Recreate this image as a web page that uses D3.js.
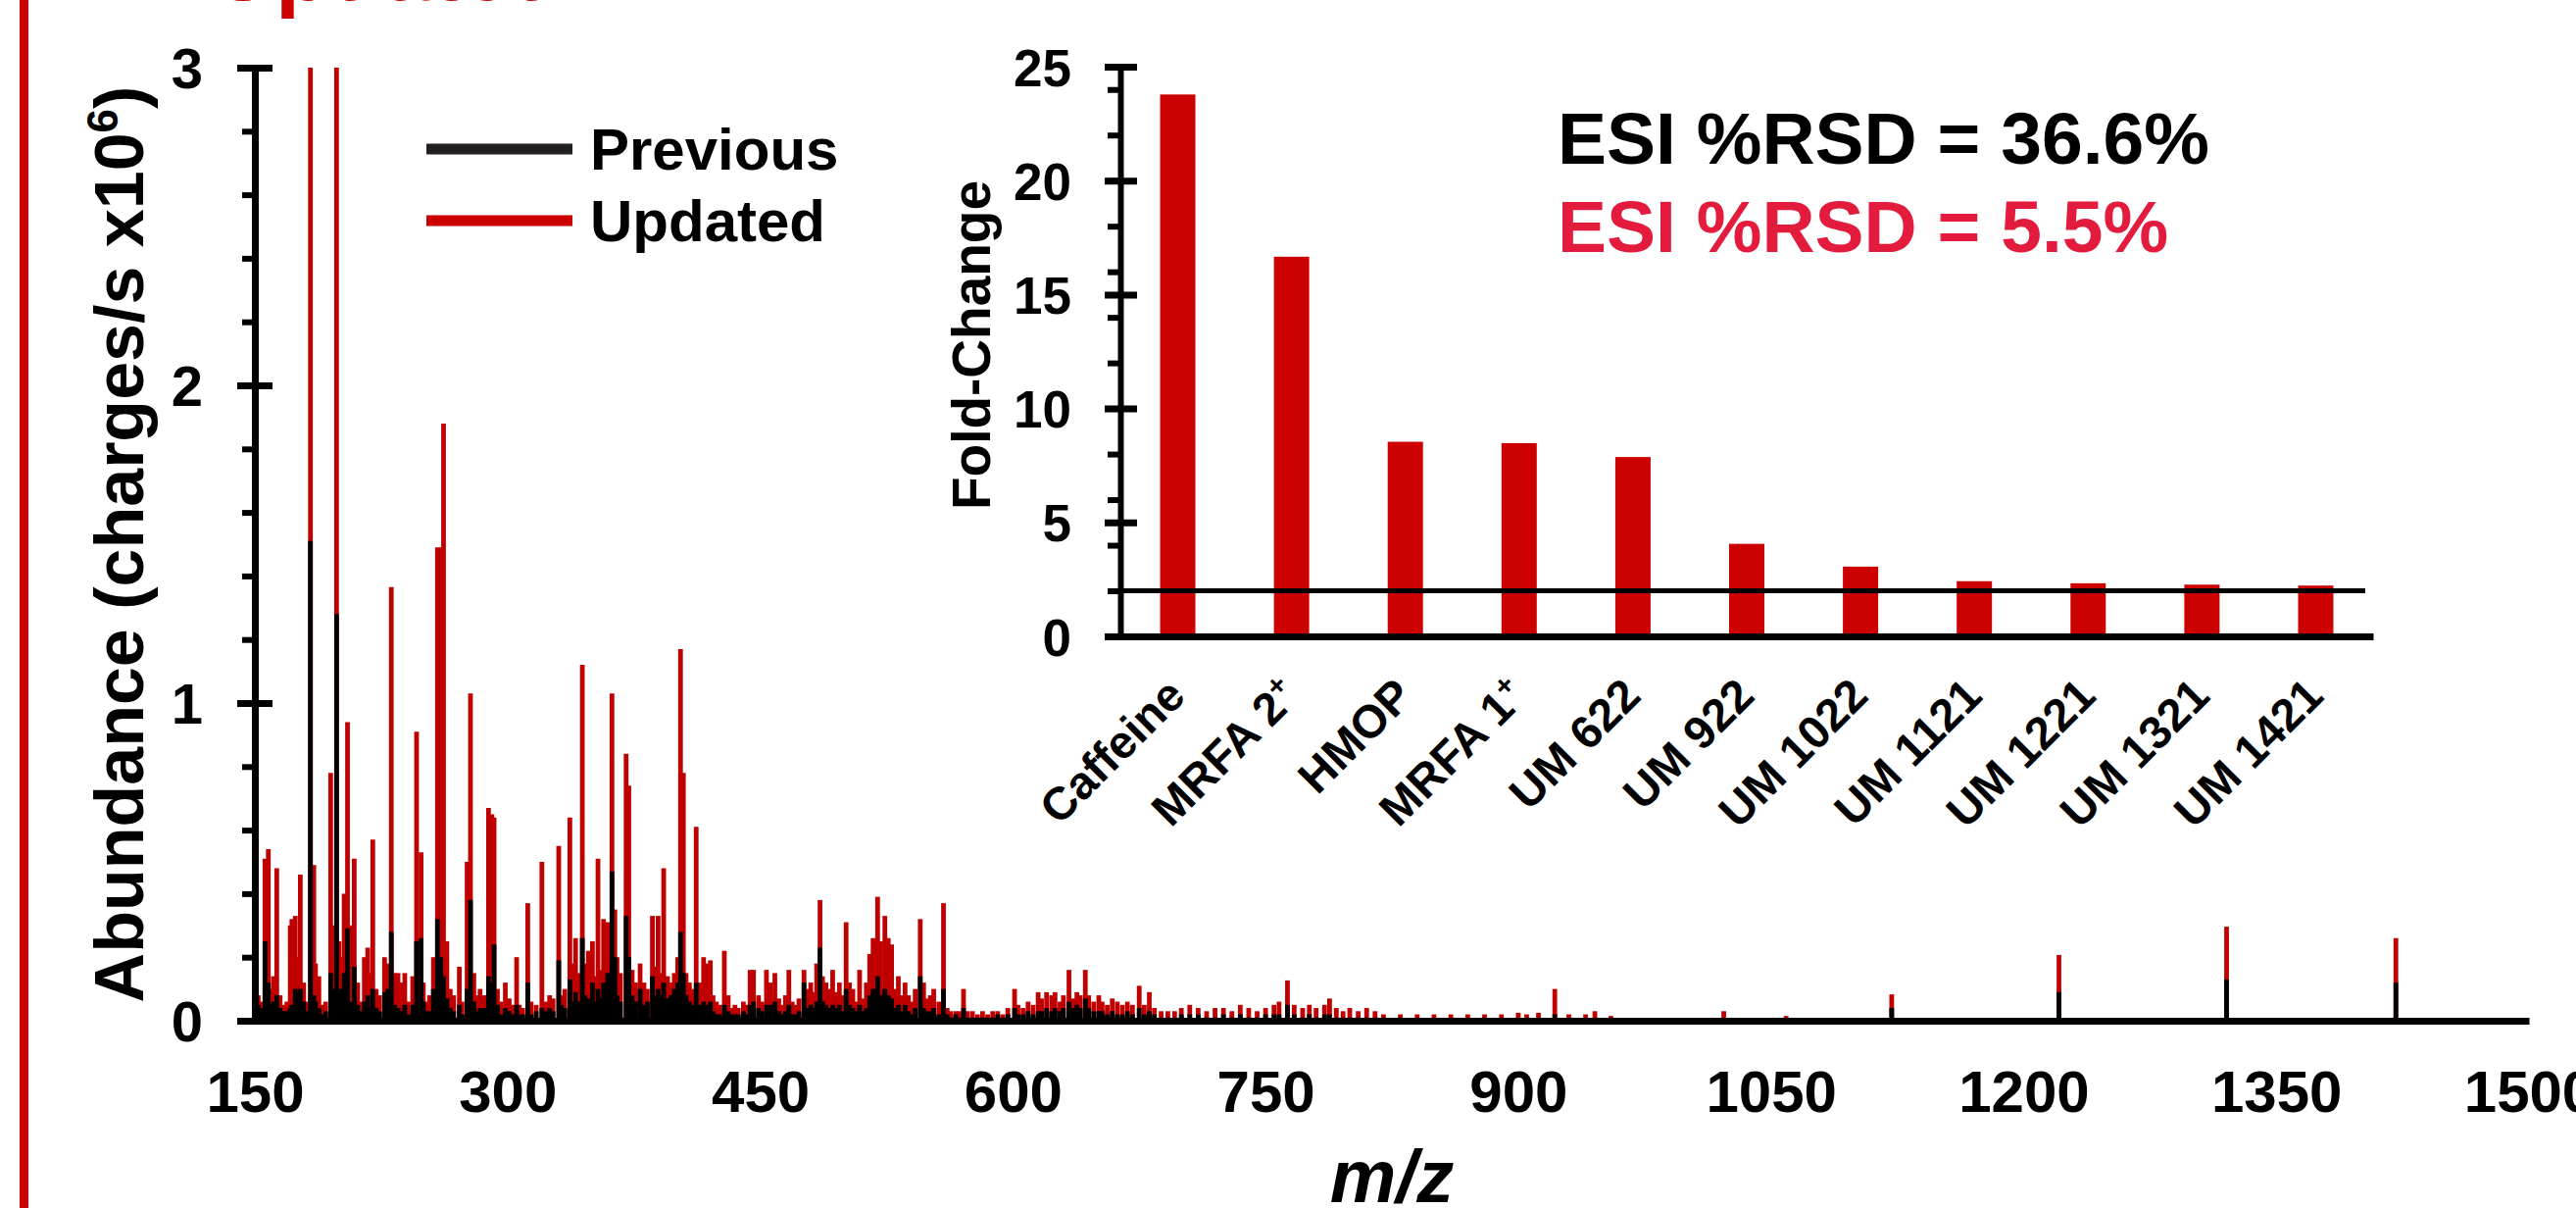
<!DOCTYPE html>
<html>
<head>
<meta charset="utf-8">
<script src="https://cdn.jsdelivr.net/npm/d3@7"></script>
<style>
  body { margin: 0; background: #fff; }
  svg { display: block; }
</style>
</head>
<body>
<div id="chart"></div>
<script>
// mass spectrum (abundance in charges/s x10^6)
const peakMz = [
  150, 152, 154, 156, 158, 160, 161, 163, 165, 167, 169, 171, 172, 174, 175, 177, 179,
  181, 183, 185, 186, 188, 190, 192, 195, 196, 198.5, 200, 201, 203, 205, 207, 209, 211,
  213, 215, 217, 218, 220, 222, 224, 227, 229, 231, 233, 235, 237, 239, 241, 243.7,
  246, 248.7, 250, 252, 253.7, 256, 258.4, 260.4, 262, 264, 266, 268, 271.4, 273,
  276, 278, 280, 282, 283.7, 286, 288.7, 290.7, 292, 294, 296, 298.7, 301, 303, 305.4, 307, 309,
  312, 314, 317, 320.4, 323, 325, 327, 330.4, 332, 334, 337, 339, 340.4, 342,
  344.4, 346, 348, 350.4, 352, 353.7, 355, 357, 359.4, 362, 363.7, 365, 367,
  370.4, 372, 374, 376, 378.7, 381, 383, 386, 387.5, 389.4, 391, 392.7, 395, 397, 399,
  401, 402.7, 404.4, 406, 408, 410, 412, 414, 416.4, 418, 420.4, 422, 424, 426, 428.7,
  431, 433, 435, 437, 440, 442, 444, 446, 449, 451, 453.7, 456, 458.7, 461, 463, 465, 467, 469, 471, 473,
  476, 478, 480, 482, 483.5, 485.5, 487, 489, 491, 493, 495, 497, 499, 501, 503, 505, 507, 509, 511, 513,
  515, 517, 519.7, 521.5, 524, 526, 528, 530, 532, 534, 536, 538, 540, 542, 545, 547, 549, 551, 553, 556,
  558.8, 561, 563, 566, 568, 570.7, 573, 576, 579, 582, 585, 588, 591, 594, 597,
  601, 603, 606, 609, 612, 615, 617, 620, 623, 625, 628, 630, 633.3, 636, 638, 640, 643, 645,
  648, 651, 653, 656, 659, 662, 665, 668, 671, 675, 678, 681, 684, 688, 692, 696, 700,
  705, 710, 715, 720, 725, 730, 735, 740, 745, 750, 755, 758, 763, 767, 772, 776, 780, 785, 788, 792, 796,
  800, 805, 810, 815, 820, 830, 840, 850, 860, 870, 880, 890, 900, 905, 912, 921.7, 930, 940, 945.5, 955,
  1022, 1059, 1121.7, 1221, 1320.5, 1421
];
const updatedAbundance = [
  0.14, 0.08, 0.06, 0.51, 0.54, 0.10, 0.14, 0.48, 0.08, 0.05, 0.06, 0.30, 0.32, 0.33, 0.20, 0.46, 0.12,
  0.06, 3.0, 0.49, 0.18, 0.14, 0.05, 0.06, 0.78, 0.30, 3.0, 0.25, 0.20, 0.40, 0.94, 0.30, 0.51, 0.12,
  0.06, 0.20, 0.23, 0.15, 0.57, 0.10, 0.08, 0.20, 0.18, 1.365, 0.15, 0.15, 0.12, 0.15, 0.06, 0.14,
  0.91, 0.53, 0.12, 0.06, 0.08, 0.20, 1.49, 1.49, 1.88, 0.25, 0.10, 0.08, 0.17, 0.06,
  0.50, 1.03, 0.15, 0.08, 0.10, 0.08, 0.67, 0.65, 0.64, 0.10, 0.06, 0.12, 0.07, 0.05, 0.20, 0.05, 0.04,
  0.37, 0.06, 0.05, 0.50, 0.06, 0.08, 0.07, 0.55, 0.08, 0.10, 0.64, 0.18, 0.26, 0.15,
  1.12, 0.18, 0.22, 0.25, 0.14, 0.51, 0.16, 0.32, 0.31, 1.03, 0.35, 0.20, 0.15,
  0.84, 0.74, 0.16, 0.12, 0.18, 0.12, 0.10, 0.33, 0.17, 0.33, 0.15, 0.48, 0.14, 0.12, 0.15,
  0.20, 1.17, 0.78, 0.15, 0.12, 0.10, 0.61, 0.12, 0.20, 0.18, 0.19, 0.08, 0.06, 0.05, 0.22,
  0.08, 0.04, 0.05, 0.04, 0.06, 0.05, 0.16, 0.16, 0.08, 0.06, 0.16, 0.12, 0.15, 0.07, 0.05, 0.08, 0.16, 0.06, 0.05, 0.07,
  0.16, 0.10, 0.12, 0.09, 0.18, 0.38, 0.14, 0.12, 0.10, 0.16, 0.09, 0.12, 0.08, 0.31, 0.12, 0.10, 0.06, 0.16, 0.07, 0.12,
  0.21, 0.26, 0.39, 0.25, 0.33, 0.26, 0.24, 0.10, 0.14, 0.08, 0.12, 0.08, 0.06, 0.10, 0.32, 0.12, 0.07, 0.08, 0.10, 0.06,
  0.37, 0.04, 0.03, 0.03, 0.03, 0.10, 0.03, 0.03, 0.02, 0.03, 0.02, 0.03, 0.03, 0.02, 0.04,
  0.10, 0.05, 0.04, 0.06, 0.05, 0.09, 0.07, 0.09, 0.08, 0.09, 0.06, 0.08, 0.16, 0.07, 0.09, 0.08, 0.16, 0.08,
  0.06, 0.08, 0.06, 0.05, 0.07, 0.06, 0.05, 0.06, 0.05, 0.11, 0.05, 0.09, 0.04, 0.03, 0.03, 0.03, 0.04,
  0.05, 0.04, 0.03, 0.04, 0.04, 0.03, 0.05, 0.04, 0.03, 0.04, 0.05, 0.06, 0.127, 0.05, 0.04, 0.05, 0.04, 0.05, 0.07, 0.04, 0.03,
  0.04, 0.03, 0.04, 0.03, 0.02, 0.02, 0.02, 0.02, 0.02, 0.02, 0.02, 0.02, 0.025, 0.02, 0.025, 0.10, 0.02, 0.02, 0.03, 0.015,
  0.03, 0.015, 0.083, 0.207, 0.296, 0.26
];
const previousAbundance = [
  0.07, 0.05, 0.04, 0.25, 0.12, 0.05, 0.06, 0.08, 0.04, 0.03, 0.03, 0.04, 0.05, 0.10, 0.09, 0.10, 0.06,
  0.03, 1.51, 0.08, 0.06, 0.04, 0.02, 0.03, 0.15, 0.10, 1.28, 0.08, 0.10, 0.15, 0.29, 0.06, 0.17, 0.05,
  0.03, 0.06, 0.08, 0.04, 0.10, 0.04, 0.03, 0.09, 0.10, 0.28, 0.05, 0.04, 0.03, 0.05, 0.02, 0.05,
  0.25, 0.26, 0.06, 0.03, 0.03, 0.10, 0.32, 0.20, 0.14, 0.07, 0.04, 0.03, 0.05, 0.02,
  0.10, 0.38, 0.06, 0.03, 0.04, 0.04, 0.14, 0.12, 0.24, 0.05, 0.02, 0.04, 0.03, 0.02, 0.05, 0.02, 0.02,
  0.12, 0.02, 0.03, 0.04, 0.03, 0.04, 0.03, 0.19, 0.05, 0.04, 0.13, 0.06, 0.09, 0.06,
  0.26, 0.08, 0.07, 0.12, 0.06, 0.10, 0.07, 0.12, 0.15, 0.47, 0.20, 0.08, 0.06,
  0.33, 0.20, 0.08, 0.06, 0.10, 0.05, 0.06, 0.14, 0.08, 0.10, 0.08, 0.12, 0.07, 0.08, 0.10,
  0.12, 0.28, 0.15, 0.08, 0.06, 0.05, 0.12, 0.05, 0.06, 0.05, 0.06, 0.03, 0.02, 0.02, 0.05,
  0.03, 0.02, 0.02, 0.02, 0.03, 0.02, 0.05, 0.06, 0.04, 0.03, 0.05, 0.05, 0.06, 0.03, 0.02, 0.03, 0.05, 0.02, 0.02, 0.03,
  0.12, 0.04, 0.05, 0.04, 0.06, 0.23, 0.06, 0.05, 0.04, 0.05, 0.04, 0.05, 0.03, 0.10, 0.05, 0.04, 0.03, 0.05, 0.03, 0.04,
  0.08, 0.10, 0.14, 0.08, 0.10, 0.08, 0.07, 0.04, 0.05, 0.03, 0.05, 0.03, 0.02, 0.04, 0.14, 0.04, 0.03, 0.03, 0.04, 0.02,
  0.10, 0.02, 0.01, 0.02, 0.01, 0.04, 0.01, 0.01, 0.01, 0.01, 0.01, 0.01, 0.02, 0.01, 0.02,
  0.04, 0.02, 0.02, 0.03, 0.02, 0.03, 0.03, 0.04, 0.03, 0.04, 0.03, 0.04, 0.06, 0.04, 0.05, 0.04, 0.07, 0.04,
  0.03, 0.03, 0.03, 0.02, 0.03, 0.02, 0.02, 0.03, 0.02, 0.04, 0.02, 0.03, 0.02, 0.01, 0.01, 0.01, 0.02,
  0.02, 0.02, 0.01, 0.01, 0.02, 0.01, 0.02, 0.01, 0.01, 0.02, 0.02, 0.02, 0.05, 0.02, 0.01, 0.02, 0.01, 0.02, 0.02, 0.01, 0.01,
  0.01, 0.01, 0.01, 0.01, 0.01, 0.01, 0.005, 0.005, 0.005, 0.005, 0.005, 0.005, 0.005, 0.005, 0.005, 0.02, 0.005, 0.005, 0.005, 0.005,
  0.005, 0.005, 0.04, 0.09, 0.13, 0.12
];

const mzTicks = [150, 300, 450, 600, 750, 900, 1050, 1200, 1350, 1500];
const abundanceTicks = [0, 1, 2, 3];
const seriesNames = ['Previous', 'Updated'];

// inset bar chart
const compounds = ['Caffeine', 'MRFA 2+', 'HMOP', 'MRFA 1+', 'UM 622', 'UM 922', 'UM 1022',
                   'UM 1121', 'UM 1221', 'UM 1321', 'UM 1421'];
const foldChange = [23.78, 16.66, 8.54, 8.48, 7.87, 4.06, 3.06, 2.42, 2.33, 2.27, 2.23];
const foldTicks = [0, 5, 10, 15, 20, 25];
const foldThreshold = 2;
const rsdLabels = ['ESI %RSD = 36.6%', 'ESI %RSD = 5.5%'];

const font = '"Liberation Sans", Arial, sans-serif';
const red = '#cc0000';
const specRed = '#c00000';
const plainNumber = d3.format('d');

function styleAxis(g, size) {
    g.attr('font-family', font)
     .attr('font-size', size)
     .attr('font-weight', 'bold');
    g.selectAll('text').attr('fill', '#000');
}

function createChart() {
    const width = 2628;
    const height = 1232;

    const svg = d3.select('#chart')
        .append('svg')
            .attr('width', width)
            .attr('height', height)
            .attr('font-family', font)
            .attr('font-weight', 'bold');

    svg.append('rect')
        .attr('width', width)
        .attr('height', height)
        .attr('fill', '#fff');

    // panel frame on the left and the cut off title
    svg.append('rect')
        .attr('x', 20)
        .attr('y', 0)
        .attr('width', 9)
        .attr('height', height)
        .attr('fill', red);

    svg.append('text')
        .attr('x', 216)
        .attr('y', 0)
        .attr('font-size', 90)
        .attr('fill', red)
        .text('Updated');

    // ---- spectrum ----
    const xScale = d3.scaleLinear().domain([150, 1500]).range([260, 2580]);
    const yScale = d3.scaleLinear().domain([0, 3]).range([1041, 69]);

    const peaks = peakMz.map((mz, i) => ({mz: mz, updated: updatedAbundance[i], previous: previousAbundance[i]}));

    svg.append('g')
        .selectAll('line')
        .data(peaks)
        .enter()
            .append('line')
                .attr('x1', d => xScale(d.mz))
                .attr('x2', d => xScale(d.mz))
                .attr('y1', yScale(0))
                .attr('y2', d => yScale(d.updated))
                .attr('stroke', specRed)
                .attr('stroke-width', 4.8);

    svg.append('g')
        .selectAll('line')
        .data(peaks)
        .enter()
            .append('line')
                .attr('x1', d => xScale(d.mz))
                .attr('x2', d => xScale(d.mz))
                .attr('y1', yScale(0))
                .attr('y2', d => yScale(d.previous))
                .attr('stroke', '#000')
                .attr('stroke-width', 4.8);

    // x axis
    svg.append('g')
        .attr('transform', `translate(0, ${yScale(0)})`)
        .call(d3.axisBottom(xScale).tickValues(mzTicks).tickSize(0).tickFormat(plainNumber))
        .call(g => styleAxis(g, 60))
        .call(g => g.select('.domain').attr('stroke-width', 7))
        .call(g => g.selectAll('text').attr('y', 93).attr('dy', 0));

    // minor y ticks
    svg.append('g')
        .attr('transform', `translate(${xScale(150)}, 0)`)
        .call(d3.axisLeft(yScale).tickValues(yScale.ticks(15)).tickSize(13).tickFormat(''))
        .call(g => g.select('.domain').remove())
        .call(g => g.selectAll('line').attr('stroke-width', 6));

    // major y ticks
    svg.append('g')
        .attr('transform', `translate(${xScale(150)}, 0)`)
        .call(d3.axisLeft(yScale).tickValues(abundanceTicks).tickSize(18).tickSizeOuter(0).tickFormat(plainNumber))
        .call(g => styleAxis(g, 58))
        .call(g => g.select('.domain').attr('stroke-width', 7))
        .call(g => g.selectAll('.tick line').attr('x1', 18).attr('stroke-width', 7))
        .call(g => g.selectAll('text').attr('x', -53).attr('dy', '0.36em'));

    // y axis title
    const yTitle = svg.append('text')
        .attr('transform', `translate(146, ${(yScale(0) + yScale(3)) / 2}) rotate(-90)`)
        .attr('text-anchor', 'middle')
        .attr('font-size', 70);
    yTitle.append('tspan').text('Abundance (charges/s x10');
    yTitle.append('tspan').attr('font-size', 44).attr('dy', -26).text('6');
    yTitle.append('tspan').attr('dy', 26).text(')');

    // x axis title
    svg.append('text')
        .attr('x', (xScale(150) + xScale(1500)) / 2)
        .attr('y', 1226)
        .attr('text-anchor', 'middle')
        .attr('font-size', 76)
        .attr('font-style', 'italic')
        .text('m/z');

    // legend
    const legendColours = ['#231f20', red];
    seriesNames.forEach((name, i) => {
        const ly = 152 + i * 73;
        svg.append('line')
            .attr('x1', 435)
            .attr('x2', 584)
            .attr('y1', ly)
            .attr('y2', ly)
            .attr('stroke', legendColours[i])
            .attr('stroke-width', 11);
        svg.append('text')
            .attr('x', 602)
            .attr('y', ly + 21)
            .attr('font-size', 60)
            .text(name);
    });

    // ---- inset: fold-change bars ----
    const xBand = d3.scaleBand()
        .domain(compounds)
        .range([1143, 2421])
        .paddingInner(0.69)
        .paddingOuter(0.349);
    const yFold = d3.scaleLinear().domain([0, 25]).range([649, 68]);

    svg.append('g')
        .selectAll('rect')
        .data(compounds)
        .enter()
            .append('rect')
                .attr('x', d => xBand(d))
                .attr('y', (d, i) => yFold(foldChange[i]))
                .attr('width', xBand.bandwidth())
                .attr('height', (d, i) => yFold(0) - yFold(foldChange[i]))
                .attr('fill', red);

    // threshold line
    svg.append('line')
        .attr('x1', 1143)
        .attr('x2', 2413)
        .attr('y1', yFold(foldThreshold))
        .attr('y2', yFold(foldThreshold))
        .attr('stroke', '#000')
        .attr('stroke-width', 5);

    // category axis
    svg.append('g')
        .attr('transform', `translate(0, ${yFold(0)})`)
        .call(d3.axisBottom(xBand).tickSize(0).tickSizeOuter(0))
        .call(g => styleAxis(g, 47))
        .call(g => g.select('.domain').attr('stroke-width', 7))
        .call(g => g.selectAll('text').text(null)
            .attr('text-anchor', 'end')
            .attr('y', 0)
            .attr('dy', 0)
            .attr('transform', 'translate(10, 63) rotate(-45)')
            .each(function(d) {
                const t = d3.select(this);
                const sup = d.endsWith('+');
                t.append('tspan').text(sup ? d.slice(0, -1) : d);
                if (sup) {
                    t.append('tspan').attr('font-size', 30).attr('dy', -17).text('+');
                }
            }));

    svg.append('g')
        .attr('transform', 'translate(1143, 0)')
        .call(d3.axisLeft(yFold).tickValues(yFold.ticks(10)).tickSize(13).tickFormat(''))
        .call(g => g.select('.domain').remove())
        .call(g => g.selectAll('line').attr('stroke-width', 6));

    svg.append('g')
        .attr('transform', 'translate(1143, 0)')
        .call(d3.axisLeft(yFold).tickValues(foldTicks).tickSize(16).tickSizeOuter(0))
        .call(g => styleAxis(g, 53))
        .call(g => g.select('.domain').attr('stroke-width', 6))
        .call(g => g.selectAll('.tick line').attr('x1', 17).attr('stroke-width', 7))
        .call(g => g.selectAll('text').attr('x', -50).attr('dy', '0.36em'));

    svg.append('text')
        .attr('transform', 'translate(1010, 352) rotate(-90)')
        .attr('text-anchor', 'middle')
        .attr('font-size', 55)
        .text('Fold-Change');

    // %RSD notes
    const rsdColours = ['#000', '#e31b3d'];
    rsdLabels.forEach((label, i) => {
        svg.append('text')
            .attr('x', 1589)
            .attr('y', 167 + i * 90)
            .attr('font-size', 75)
            .attr('fill', rsdColours[i])
            .text(label);
    });
}

createChart();
</script>
</body>
</html>
